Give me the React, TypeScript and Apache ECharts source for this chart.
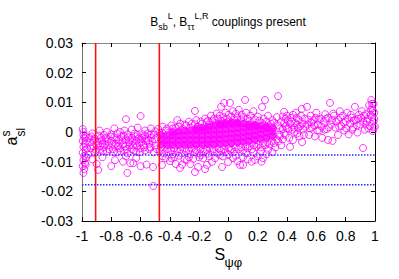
import React, { useEffect, useRef } from "react";
import * as echarts from "echarts";

// x ticks (S_psi_phi) and y ticks (a^s_sl)
const xTicks = { min: -1, max: 1, step: 0.2 };
const yTicks = { min: -0.03, max: 0.03, step: 0.01 };

// vertical red bounds on S_psi_phi
const redLinesX = [-0.907, -0.472];
// horizontal blue dotted bounds on a^s_sl
const blueLinesY = [-0.00775, -0.0178];

// scan points near S = -1
const leftEdgePoints: [number, number][] = [
  [-0.995, 0.001], [-0.99, -0.001], [-0.985, -0.002], [-0.995, -0.003], [-0.98, -0.004],
  [-0.99, -0.005], [-0.975, -0.006], [-0.995, -0.007], [-0.985, -0.008], [-0.97, -0.0085],
  [-0.99, -0.0095], [-0.98, -0.0105], [-0.995, -0.0115], [-0.985, -0.0125], [-0.99, -0.0138],
  [-0.97, -0.003], [-0.965, -0.0055], [-0.975, -0.011], [-0.96, -0.0075], [-0.99, 0.0],
  [-0.975, -0.0015],
];

// band between S = -0.96 and -0.5
const leftBandPoints: [number, number][] = [
  [-0.93, -0.0005], [-0.88, 0.0005], [-0.83, 0.0], [-0.78, 0.0012], [-0.74, 0.0], [-0.7, 0.0043],
  [-0.6, 0.0054], [-0.66, 0.0008], [-0.62, 0.0015], [-0.57, 0.0005], [-0.53, 0.0012], [-0.85, -0.001],
  [-0.8, -0.0008],
  [-0.95, -0.002], [-0.92, -0.003], [-0.9, -0.0045], [-0.87, -0.002], [-0.86, -0.0038], [-0.84, -0.0025],
  [-0.82, -0.0045], [-0.8, -0.003], [-0.78, -0.0018], [-0.77, -0.004], [-0.75, -0.0028], [-0.73, -0.0015],
  [-0.72, -0.0042], [-0.7, -0.0025], [-0.69, -0.0008], [-0.68, -0.0035], [-0.66, -0.002], [-0.65, -0.0045],
  [-0.63, -0.003], [-0.62, -0.001], [-0.61, -0.0038], [-0.59, -0.002], [-0.58, -0.0045], [-0.57, -0.0012],
  [-0.56, -0.003], [-0.55, -0.0005], [-0.54, -0.004], [-0.53, -0.002], [-0.52, -0.0032], [-0.51, -0.001],
  [-0.5, -0.0045], [-0.64, -0.0005], [-0.76, -0.0005], [-0.71, 0.0005], [-0.6, -0.0025], [-0.67, -0.0028],
  [-0.94, -0.0055], [-0.91, -0.0068], [-0.88, -0.006], [-0.85, -0.0052], [-0.83, -0.0065], [-0.79, -0.0058],
  [-0.76, -0.0068], [-0.74, -0.0055], [-0.71, -0.0062], [-0.69, -0.0072], [-0.66, -0.0058], [-0.63, -0.0066],
  [-0.6, -0.0055], [-0.57, -0.0062], [-0.54, -0.0058], [-0.51, -0.0068],
  [-0.93, -0.0092], [-0.89, -0.0128], [-0.9, -0.0108], [-0.86, -0.0085], [-0.775, -0.0095], [-0.8, -0.0115],
  [-0.72, -0.01], [-0.67, -0.0105], [-0.69, -0.0138], [-0.63, -0.0088], [-0.6, -0.0115], [-0.56, -0.011],
  [-0.515, -0.0118], [-0.513, -0.0182], [-0.7, -0.0082], [-0.65, -0.0105],
  [-0.945, -0.0035], [-0.935, -0.0015], [-0.925, -0.0048], [-0.915, -0.0022], [-0.905, -0.006], [-0.895, -0.0032],
  [-0.885, -0.0012], [-0.875, -0.0048], [-0.865, -0.0028], [-0.855, -0.0065], [-0.845, -0.0042], [-0.835, -0.0018],
  [-0.825, -0.0032], [-0.815, -0.0058], [-0.805, -0.0015], [-0.795, -0.0042], [-0.785, -0.0068], [-0.765, -0.0025],
  [-0.755, -0.0048], [-0.745, -0.0038], [-0.735, -0.0065], [-0.725, -0.0028], [-0.715, -0.0012], [-0.705, -0.0048],
  [-0.695, -0.0058], [-0.685, -0.0018], [-0.675, -0.0045], [-0.655, -0.0032], [-0.645, -0.0062], [-0.635, -0.0015],
  [-0.625, -0.0048], [-0.615, -0.0022], [-0.605, -0.0068], [-0.595, -0.0035], [-0.585, -0.0008], [-0.575, -0.0052],
  [-0.565, -0.0022], [-0.545, -0.0028], [-0.535, -0.0052], [-0.525, -0.0008], [-0.505, -0.0025], [-0.5, 0.0002],
];

// dense core (drawn filled, overlapping circles)
const corePoints: [number, number][] = [
  [-0.46, -0.0042], [-0.46, -0.0026], [-0.46, -0.001],
  [-0.42, -0.0044], [-0.42, -0.0028], [-0.42, -0.0012],
  [-0.38, -0.0044], [-0.38, -0.0028], [-0.38, -0.0012], [-0.38, 0.0],
  [-0.34, -0.0044], [-0.34, -0.0028], [-0.34, -0.0012], [-0.34, 0.0002],
  [-0.3, -0.0043], [-0.3, -0.0027], [-0.3, -0.0011], [-0.3, 0.0004],
  [-0.26, -0.0043], [-0.26, -0.0027], [-0.26, -0.0011], [-0.26, 0.0005],
  [-0.22, -0.0043], [-0.22, -0.0027], [-0.22, -0.0011], [-0.22, 0.0005], [-0.22, 0.0012],
  [-0.18, -0.0043], [-0.18, -0.0027], [-0.18, -0.0011], [-0.18, 0.0005], [-0.18, 0.0015],
  [-0.14, -0.0042], [-0.14, -0.0026], [-0.14, -0.001], [-0.14, 0.0006], [-0.14, 0.0018],
  [-0.1, -0.0041], [-0.1, -0.0025], [-0.1, -0.0009], [-0.1, 0.0007], [-0.1, 0.0022],
  [-0.06, -0.004], [-0.06, -0.0024], [-0.06, -0.0008], [-0.06, 0.0008], [-0.06, 0.0024], [-0.06, 0.0028],
  [-0.02, -0.0039], [-0.02, -0.0023], [-0.02, -0.0007], [-0.02, 0.0009], [-0.02, 0.0025], [-0.02, 0.0032],
  [0.02, -0.0037], [0.02, -0.0021], [0.02, -0.0005], [0.02, 0.0011], [0.02, 0.0027], [0.02, 0.0033],
  [0.06, -0.0035], [0.06, -0.0019], [0.06, -0.0003], [0.06, 0.0013], [0.06, 0.0028], [0.06, 0.0032],
  [0.1, -0.0033], [0.1, -0.0017], [0.1, -0.0001], [0.1, 0.0015], [0.1, 0.0029],
  [0.14, -0.003], [0.14, -0.0014], [0.14, 0.0002], [0.14, 0.0018], [0.14, 0.0026],
  [0.18, -0.0027], [0.18, -0.0011], [0.18, 0.0005], [0.18, 0.0019], [0.18, 0.0024],
  [0.22, -0.0023], [0.22, -0.0007], [0.22, 0.0009], [0.22, 0.0021],
  [0.26, -0.0019], [0.26, -0.0003], [0.26, 0.0012], [0.26, 0.002],
  [0.3, -0.0014], [0.3, 0.0001], [0.3, 0.0014],
];

// scattered points around the core, S = -0.5 .. 0.36
const coreEdgePoints: [number, number][] = [
  [-0.48, 0.001], [-0.45, 0.0018], [-0.42, 0.0012], [-0.39, 0.0022], [-0.36, 0.0015], [-0.33, 0.0028],
  [-0.3, 0.0025], [-0.27, 0.0035], [-0.25, 0.0028], [-0.229, 0.0071], [-0.22, 0.004], [-0.19, 0.0035],
  [-0.16, 0.0045], [-0.14, 0.0038], [-0.12, 0.0055], [-0.1, 0.0045], [-0.08, 0.0062], [-0.06, 0.0055],
  [-0.05, 0.0085], [-0.03, 0.0098], [-0.02, 0.0065], [0.0, 0.0058], [0.01, 0.0098], [0.03, 0.007],
  [0.05, 0.0062], [0.07, 0.0075], [0.09, 0.0058], [0.113, 0.0108], [0.12, 0.0065], [0.15, 0.0055],
  [0.17, 0.007], [0.2, 0.0052], [0.229, 0.0084], [0.249, 0.0108], [0.24, 0.0045], [0.27, 0.0055],
  [0.3, 0.004], [0.338, 0.0121], [0.33, 0.005], [0.36, 0.0035], [-0.35, 0.004],
  [-0.47, -0.0065], [-0.44, -0.0072], [-0.41, -0.0068], [-0.38, -0.0075], [-0.35, -0.0066], [-0.32, -0.0072],
  [-0.29, -0.0065], [-0.26, -0.0074], [-0.23, -0.0068], [-0.2, -0.0071], [-0.17, -0.0066], [-0.14, -0.0073],
  [-0.11, -0.0065], [-0.08, -0.007], [-0.05, -0.0064], [-0.02, -0.0068], [0.01, -0.0062], [0.04, -0.0066],
  [0.07, -0.0058], [0.1, -0.0062], [0.13, -0.0055], [0.16, -0.0058], [0.19, -0.005], [0.22, -0.0052],
  [0.25, -0.0045], [0.28, -0.0042], [0.31, -0.0038], [0.34, -0.0032],
  [-0.454, -0.0111], [-0.43, -0.0088], [-0.4, -0.0098], [-0.37, -0.0085], [-0.331, -0.0121], [-0.3, -0.0092],
  [-0.283, -0.0094], [-0.26, -0.0108], [-0.229, -0.0135], [-0.2, -0.0085], [-0.174, -0.0089], [-0.147, -0.0111],
  [-0.113, -0.0101], [-0.092, -0.0088], [-0.044, -0.0118], [-0.04, -0.0082], [-0.003, -0.0101], [0.031, -0.0088],
  [0.06, -0.0098], [0.079, -0.0111], [0.1, -0.0085], [0.13, -0.0092], [0.158, -0.01], [0.181, -0.0094],
  [0.2, -0.0082], [0.226, -0.01], [0.235, -0.0088], [0.26, -0.0075], [0.3, -0.0068], [-0.36, -0.0108],
  [-0.24, -0.009], [-0.317, -0.011], [-0.208, -0.0118], [-0.16, -0.0125], [0.099, -0.0111],
  [-0.47, -0.0002], [-0.43, 0.0005], [-0.41, -0.0003], [-0.38, 0.0012], [-0.34, 0.0018], [-0.31, 0.001],
  [-0.29, 0.0022], [-0.26, 0.0015], [-0.23, 0.0026], [-0.21, 0.0018], [-0.18, 0.0028], [-0.15, 0.0033],
  [-0.13, 0.0025], [-0.11, 0.0038], [-0.09, 0.003], [-0.07, 0.0045], [-0.05, 0.0038], [-0.035, 0.005],
  [-0.01, 0.0045], [0.02, 0.0052], [0.04, 0.0042], [0.06, 0.0048], [0.085, 0.0042], [0.1, 0.005],
  [0.13, 0.0045], [0.145, 0.0038], [0.18, 0.0042], [0.21, 0.0038], [0.23, 0.003], [0.26, 0.0035],
  [0.29, 0.0028], [0.31, 0.0032], [0.34, 0.0022], [0.35, 0.0012],
  [-0.49, -0.0058], [-0.46, -0.0052], [-0.42, -0.0058], [-0.39, -0.0062], [-0.37, -0.0055], [-0.33, -0.006],
  [-0.3, -0.0056], [-0.27, -0.0062], [-0.25, -0.0056], [-0.22, -0.006], [-0.19, -0.0058], [-0.15, -0.006],
  [-0.13, -0.0055], [-0.1, -0.0058], [-0.065, -0.0056], [-0.03, -0.0058], [0.0, -0.0055], [0.02, -0.0058],
  [0.05, -0.0052], [0.085, -0.0052], [0.115, -0.0048], [0.145, -0.0048], [0.175, -0.0044], [0.205, -0.0042],
  [0.235, -0.0038], [0.265, -0.0034], [0.295, -0.003], [0.33, -0.0025], [0.35, -0.0008],
  [-0.45, -0.0082], [-0.39, -0.0088], [-0.34, -0.008], [-0.27, -0.0085], [-0.19, -0.0078], [-0.13, -0.0082],
  [-0.06, -0.0078], [0.0, -0.0075], [0.05, -0.008], [0.12, -0.0072], [0.17, -0.0068], [0.22, -0.0065],
  [0.27, -0.006], [0.32, -0.0052], [0.36, -0.0045],
];

// band from S = 0.36 to 1
const rightBandPoints: [number, number][] = [
  [0.38, 0.003], [0.39, -0.001], [0.4, 0.0055], [0.41, 0.001], [0.42, -0.005], [0.43, 0.0035],
  [0.44, -0.0027], [0.45, 0.0015], [0.46, 0.0065], [0.47, -0.0005], [0.48, 0.004], [0.49, 0.002],
  [0.5, 0.0078], [0.502, -0.0034], [0.51, 0.0008], [0.52, 0.0045], [0.536, 0.0085], [0.54, 0.0025],
  [0.55, -0.001], [0.56, 0.0055], [0.57, 0.0015], [0.58, 0.004], [0.59, -0.0015], [0.6, 0.0065],
  [0.61, 0.0025], [0.62, 0.0005], [0.63, 0.0045], [0.64, -0.002], [0.65, 0.0035], [0.66, 0.006],
  [0.67, 0.001], [0.679, -0.0027], [0.68, 0.0048], [0.693, 0.0098], [0.7, 0.0025], [0.71, -0.003],
  [0.72, 0.0055], [0.73, 0.0015], [0.747, -0.001], [0.75, 0.0042], [0.76, 0.007], [0.77, 0.002],
  [0.78, 0.0055], [0.79, 0.0005], [0.8, 0.0035], [0.81, 0.0065], [0.82, -0.0008], [0.83, 0.0028],
  [0.84, 0.0048], [0.85, 0.0015], [0.863, 0.0085], [0.87, 0.004], [0.88, -0.0002], [0.89, 0.0058],
  [0.9, 0.0025], [0.91, 0.007], [0.918, -0.0054], [0.92, 0.0035], [0.93, 0.0008], [0.94, 0.006],
  [0.95, 0.0045], [0.96, 0.009], [0.965, 0.002], [0.97, 0.0075], [0.975, 0.0108], [0.98, 0.005],
  [0.985, 0.0003], [0.99, 0.0095], [0.99, 0.0035], [0.995, 0.0065], [1.0, 0.0018], [0.98, 0.008],
  [0.37, 0.0052], [0.38, 0.0068], [0.4, 0.0012], [0.42, 0.0028], [0.44, 0.0058], [0.45, 0.0],
  [0.47, 0.0025], [0.35, -0.0015], [0.37, -0.0025], [0.39, 0.0045],
  [0.37, 0.001], [0.38, -0.0005], [0.39, 0.002], [0.405, 0.0038], [0.415, -0.002], [0.425, 0.0048],
  [0.435, 0.0008], [0.455, 0.003], [0.465, 0.0048], [0.475, 0.0012], [0.485, -0.0015], [0.495, 0.0055],
  [0.505, 0.0028], [0.515, -0.001], [0.525, 0.0018], [0.545, 0.0042], [0.555, 0.0012], [0.565, 0.0032],
  [0.585, 0.0022], [0.595, 0.0048], [0.605, 0.0005], [0.615, 0.0042], [0.635, 0.0018], [0.655, 0.0008],
  [0.665, 0.0045], [0.685, 0.0015], [0.705, 0.004], [0.715, 0.0062], [0.735, 0.0035], [0.755, 0.0018],
  [0.765, 0.0048], [0.785, 0.0032], [0.805, 0.0012], [0.815, 0.0045], [0.835, 0.0058], [0.845, 0.0008],
  [0.855, 0.0038], [0.875, 0.0022], [0.885, 0.0045], [0.905, 0.0048], [0.925, 0.0055], [0.935, 0.0025],
  [0.945, 0.0035], [0.955, 0.0012], [0.97, 0.0058], [0.985, 0.0072], [0.995, 0.0045], [0.99, 0.0015],
  [0.98, 0.0095],
];

const FONT = "Liberation Sans, Arial, Helvetica, sans-serif";
const MAGENTA = "#ff00ff";

export default function App() {
  const ref = useRef<HTMLDivElement>(null);
  useEffect(() => {
    if (!ref.current) return;
    const chart = echarts.init(ref.current, undefined, { renderer: "svg" });
    const openPoints = [...leftEdgePoints, ...leftBandPoints, ...coreEdgePoints, ...rightBandPoints];
    const axisCommon = {
      type: "value" as const,
      splitLine: { show: false },
      axisTick: { show: true, inside: true, length: 4, lineStyle: { color: "#000" } },
    };
    const series: any[] = [
      {
        type: "scatter",
        xAxisIndex: 0,
        yAxisIndex: 0,
        data: corePoints,
        symbol: "circle",
        symbolSize: 7,
        silent: true,
        itemStyle: { color: MAGENTA, borderColor: MAGENTA, borderWidth: 1 },
        z: 2,
      },
      {
        type: "scatter",
        xAxisIndex: 0,
        yAxisIndex: 0,
        data: openPoints,
        symbol: "circle",
        symbolSize: 7,
        silent: true,
        itemStyle: { color: "rgba(0,0,0,0)", borderColor: MAGENTA, borderWidth: 1 },
        z: 3,
      },
    ];
    redLinesX.forEach((x) => {
      series.push({
        type: "line",
        data: [[x, yTicks.min], [x, yTicks.max]],
        symbol: "none",
        silent: true,
        lineStyle: { color: "#ff1010", width: 1.6 },
        z: 5,
      });
    });
    blueLinesY.forEach((y) => {
      series.push({
        type: "line",
        data: [[xTicks.min, y], [xTicks.max, y]],
        symbol: "none",
        silent: true,
        lineStyle: { color: "#2a2aff", width: 1.5, type: [1.5, 1.5] },
        z: 5,
      });
    });

    chart.setOption({
      animation: false,
      backgroundColor: "#ffffff",
      grid: { left: 82, right: 24, top: 43, bottom: 58 },
      xAxis: [
        {
          ...axisCommon,
          min: xTicks.min,
          max: xTicks.max,
          interval: xTicks.step,
          position: "bottom",
          axisLine: { show: true, onZero: false, lineStyle: { color: "#000", width: 1 } },
          axisLabel: { show: true, color: "#000", fontSize: 14, fontFamily: FONT, margin: 8 },
        },
        {
          ...axisCommon,
          min: xTicks.min,
          max: xTicks.max,
          interval: xTicks.step,
          position: "top",
          axisLine: { show: true, onZero: false, lineStyle: { color: "#888", width: 1 } },
          axisLabel: { show: false },
        },
      ],
      yAxis: [
        {
          ...axisCommon,
          min: yTicks.min,
          max: yTicks.max,
          interval: yTicks.step,
          position: "left",
          axisLine: { show: true, onZero: false, lineStyle: { color: "#777", width: 1 } },
          axisLabel: { show: true, color: "#000", fontSize: 14, fontFamily: FONT, margin: 9 },
        },
        {
          ...axisCommon,
          min: yTicks.min,
          max: yTicks.max,
          interval: yTicks.step,
          position: "right",
          axisLine: { show: true, onZero: false, lineStyle: { color: "#000", width: 1 } },
          axisLabel: { show: false },
        },
      ],
      graphic: [
        {
          type: "text",
          x: 228,
          y: 21.5,
          silent: true,
          style: {
            text: "{m|B}{sub|sb}{sup|L}{m|, B}{sub|ττ}{sup|L,R}{m| couplings present}",
            align: "center",
            verticalAlign: "middle",
            rich: {
              m: { fontSize: 12, fontFamily: FONT, fill: "#000", lineHeight: 20, verticalAlign: "middle" },
              sub: { fontSize: 9, fontFamily: FONT, fill: "#000", verticalAlign: "bottom", lineHeight: 11 },
              sup: { fontSize: 9, fontFamily: FONT, fill: "#000", verticalAlign: "top", lineHeight: 11 },
            },
          },
        },
        {
          type: "text",
          x: 11.5,
          y: 145.5,
          rotation: Math.PI / 2,
          silent: true,
          style: { text: "a", fontSize: 16, fontFamily: FONT, fill: "#000", align: "left", verticalAlign: "middle" },
        },
        {
          type: "text",
          x: 6,
          y: 136.5,
          rotation: Math.PI / 2,
          silent: true,
          style: { text: "s", fontSize: 12, fontFamily: FONT, fill: "#000", align: "left", verticalAlign: "middle" },
        },
        {
          type: "text",
          x: 20.5,
          y: 136.5,
          rotation: Math.PI / 2,
          silent: true,
          style: { text: "sl", fontSize: 12, fontFamily: FONT, fill: "#000", align: "left", verticalAlign: "middle" },
        },
        {
          type: "text",
          x: 214.5,
          y: 254.5,
          silent: true,
          style: { text: "S", fontSize: 16, fontFamily: FONT, fill: "#000", align: "left", verticalAlign: "middle" },
        },
        {
          type: "text",
          x: 224.5,
          y: 262,
          silent: true,
          style: { text: "ψφ", fontSize: 13, fontFamily: FONT, fill: "#000", align: "left", verticalAlign: "middle" },
        },
      ],
      series,
    });
    return () => chart.dispose();
  }, []);
  return (
    <div
      ref={ref}
      style={{ position: "fixed", left: 0, top: 0, width: 399, height: 279, background: "#fff" }}
    />
  );
}
